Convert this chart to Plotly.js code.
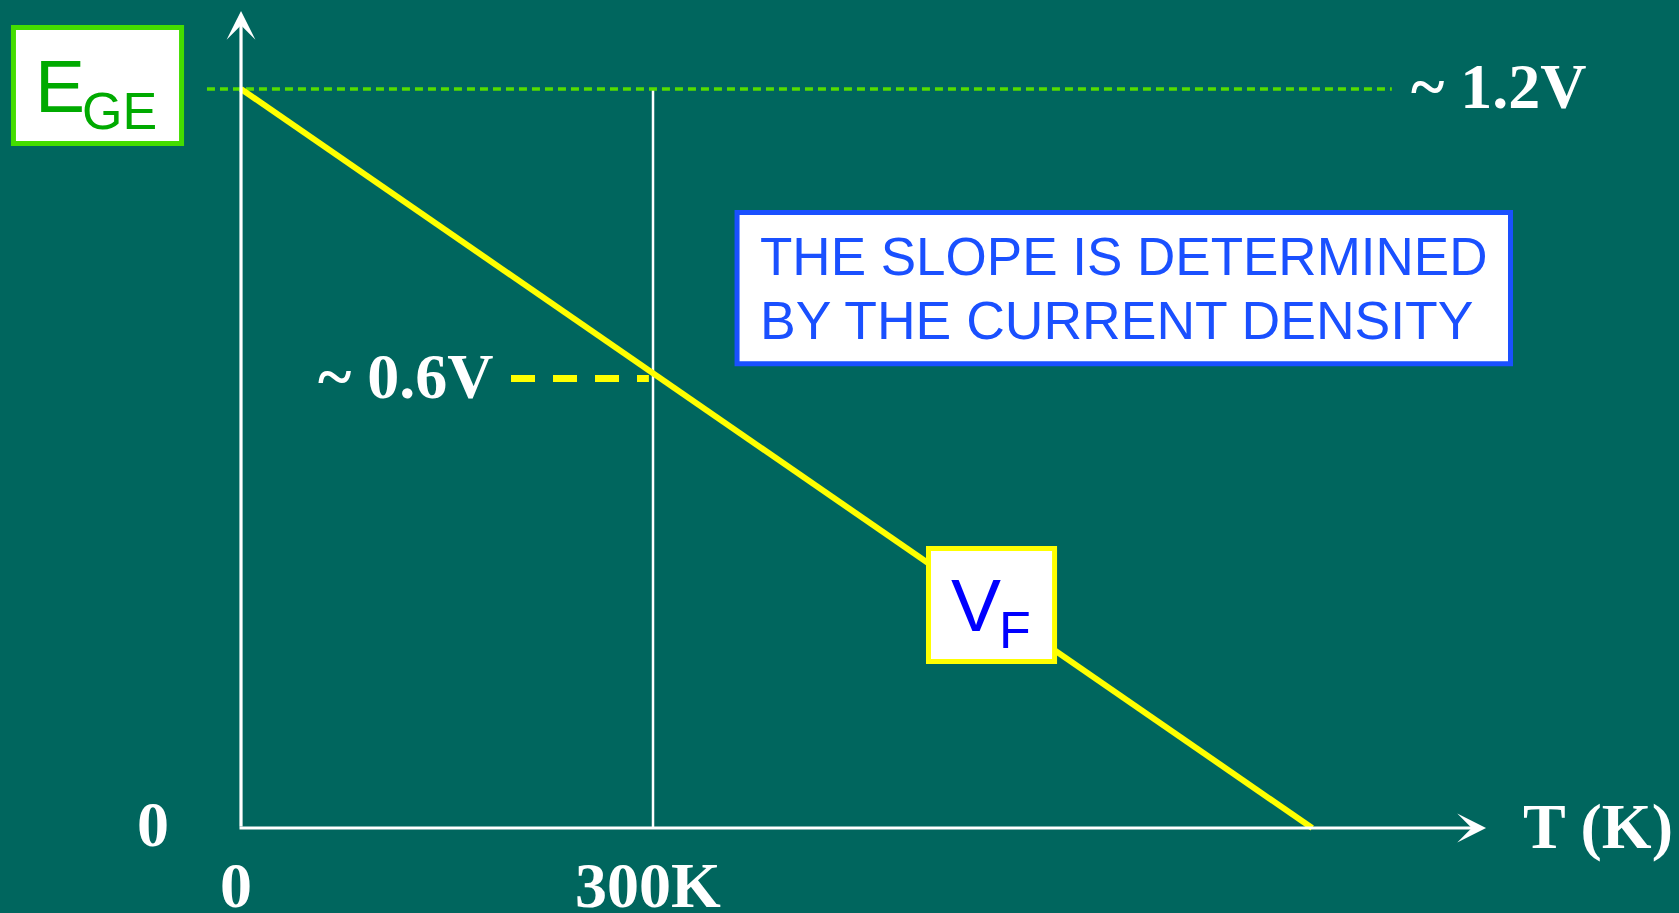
<!DOCTYPE html>
<html>
<head>
<meta charset="utf-8">
<script src="https://cdn.plot.ly/plotly-3.0.1.min.js"></script>
<style>
html,body{margin:0;padding:0;background:#00665e;}
#chart{width:1679px;height:913px;}
</style>
</head>
<body>
<div id="chart"></div>
<script>
// ---- data ----
const tempK = [0, 780];          // temperature (K) along the VF line
const vfVolts = [1.2, 0];        // forward voltage VF (V)
const egeVolts = 1.2;            // band-gap voltage EGE (~1.2 V)
const refTemp = 300;             // room temperature marker (K)
const vfAtRef = 0.73;            // VF at 300 K as drawn (labelled ~0.6V)
const xTickVals = [0, 300];
const xTickText = ['0', '300K'];
const yTickVals = [0];
const yTickText = ['0'];
const egeLabel = '~ 1.2V';
const refLabel = '~ 0.6V';
const xTitle = 'T (K)';
const noteLines = ['THE SLOPE IS DETERMINED', 'BY THE CURRENT DENSITY'];

const BG = '#00665e';
const serif = {family: 'Liberation Serif, Times New Roman, serif', size: 64, color: '#ffffff', weight: 'bold'};
const sans = (size, color) => ({family: 'Liberation Sans, Arial, sans-serif', size: size, color: color});

const traces = [{
  x: tempK, y: vfVolts, mode: 'lines', type: 'scatter',
  line: {color: '#ffff00', width: 6}, hoverinfo: 'skip'
}];

const shapes = [
  // vertical 300 K marker
  {type: 'line', xref: 'x', yref: 'y', x0: refTemp, x1: refTemp, y0: 0, y1: egeVolts, layer: 'below',
   line: {color: '#ffffff', width: 2.5}},
  // EGE dashed level
  {type: 'line', xref: 'x', yref: 'y', x0: -24.8, x1: 838, y0: egeVolts, y1: egeVolts, layer: 'below',
   line: {color: '#55dd00', width: 3.5, dash: '8px,5px'}},
  // VF at 300 K dashed
  {type: 'line', xref: 'x', yref: 'y', x0: 196.6, x1: refTemp - 3, y0: vfAtRef, y1: vfAtRef,
   line: {color: '#ffff00', width: 7, dash: '24px,18px'}},
  // EGE box
  {type: 'rect', xref: 'x', yref: 'y', x0: -165.7, x1: -43.3, y0: 1.1115, y1: 1.2999,
   fillcolor: '#ffffff', line: {color: '#44dd00', width: 5}},
  // VF box
  {type: 'rect', xref: 'x', yref: 'y', x0: 500.6, x1: 592.4, y0: 0.2704, y1: 0.4539,
   fillcolor: '#ffffff', line: {color: '#ffff00', width: 5}},
  // note box
  {type: 'rect', xref: 'x', yref: 'y', x0: 361.2, x1: 924.4, y0: 0.7539, y1: 0.9996,
   fillcolor: '#ffffff', line: {color: '#1a50ff', width: 5}}
];

const annotations = [
  // y axis arrow
  {xref: 'x', yref: 'y', axref: 'x', ayref: 'y', x: 0, y: 1.3267, ax: 0, ay: 0,
   text: '', showarrow: true, arrowhead: 3, arrowsize: 1.5, arrowwidth: 3.2, arrowcolor: '#ffffff', standoff: 0},
  // x axis arrow
  {xref: 'x', yref: 'y', axref: 'x', ayref: 'y', x: 906.6, y: 0, ax: -2.2, ay: 0,
   text: '', showarrow: true, arrowhead: 3, arrowsize: 1.5, arrowwidth: 3.2, arrowcolor: '#ffffff', standoff: 0},
  // labels
  {xref: 'x', yref: 'y', x: 850.5, y: egeVolts, xanchor: 'left', yanchor: 'middle', yshift: 2,
   text: egeLabel, showarrow: false, font: serif},
  {xref: 'x', yref: 'y', x: 183.5, y: vfAtRef, xanchor: 'right', yanchor: 'middle', yshift: 2, xshift: 3,
   text: refLabel, showarrow: false, font: serif},
  {xref: 'x', yref: 'y', x: 932, y: 0, xanchor: 'left', yanchor: 'middle', yshift: 2,
   text: xTitle, showarrow: false, font: serif},
  // EGE box text
  {xref: 'x', yref: 'y', x: -146.4, y: 1.2041, xanchor: 'left', yanchor: 'middle', xshift: -7,
   text: 'E', showarrow: false, font: sans(75, '#00aa00')},
  {xref: 'x', yref: 'y', x: -112.1, y: 1.1636, xanchor: 'left', yanchor: 'middle', xshift: -7,
   text: 'GE', showarrow: false, font: sans(52, '#00aa00')},
  // VF box text
  {xref: 'x', yref: 'y', x: 517, y: 0.3621, xanchor: 'left', yanchor: 'middle', xshift: -2,
   text: 'V', showarrow: false, font: sans(75, '#0000ff')},
  {xref: 'x', yref: 'y', x: 553.4, y: 0.3215, xanchor: 'left', yanchor: 'middle', xshift: -4,
   text: 'F', showarrow: false, font: sans(52, '#0000ff')},
  // note text
  {xref: 'x', yref: 'y', x: 376.5, y: 0.928, xanchor: 'left', yanchor: 'middle',
   text: noteLines[0], showarrow: false, font: sans(53, '#1a50ff')},
  {xref: 'x', yref: 'y', x: 376.5, y: 0.8238, xanchor: 'left', yanchor: 'middle',
   text: noteLines[1], showarrow: false, font: sans(53.5, '#1a50ff')}
];

// tick labels drawn through the axis scale
xTickVals.forEach((v, i) => annotations.push({
  xref: 'x', yref: 'y', x: v, y: -0.0958, xanchor: 'center', yanchor: 'middle', yshift: 2, xshift: -5,
  text: xTickText[i], showarrow: false, font: serif
}));
yTickVals.forEach((v, i) => annotations.push({
  xref: 'x', yref: 'y', x: -64.1, y: v, xanchor: 'center', yanchor: 'middle', yshift: 4,
  text: yTickText[i], showarrow: false, font: serif
}));

const layout = {
  width: 1679, height: 913,
  margin: {l: 0, r: 0, t: 0, b: 0, pad: 0},
  paper_bgcolor: BG, plot_bgcolor: BG,
  showlegend: false,
  xaxis: {range: [-175.5, 1047.1], visible: false, fixedrange: true},
  yaxis: {range: [-0.138, 1.3445], visible: false, fixedrange: true},
  shapes: shapes,
  annotations: annotations
};

Plotly.newPlot('chart', traces, layout, {displayModeBar: false, staticPlot: true});
</script>
</body>
</html>
